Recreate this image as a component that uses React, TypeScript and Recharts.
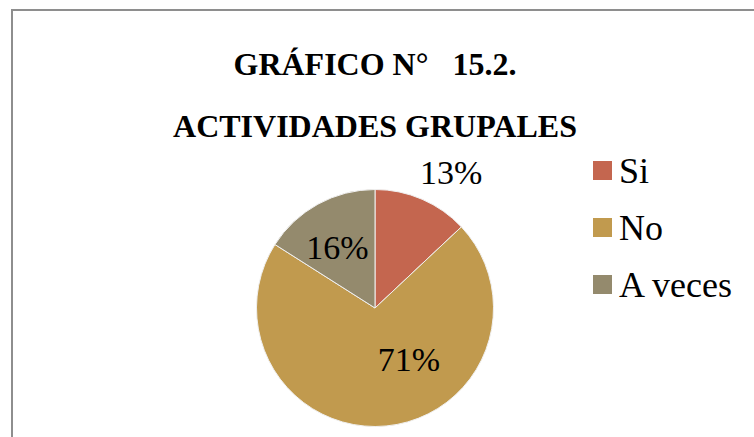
import React from "react";
import { PieChart, Pie, Cell, Legend } from "recharts";

const categories = ["Si", "No", "A veces"];
const values = [13, 71, 16];
const colors = ["#C4664F", "#C19A4E", "#948A6D"];
const titleLines = ["GRÁFICO N°   15.2.", "ACTIVIDADES GRUPALES"];

// label placement per slice: radius ratio and angle (deg) shift from slice middle
const labelPlacement = [
  { r: 1.31, shift: -6 },
  { r: 0.52, shift: 28 },
  { r: 0.6, shift: 3 },
];

const data = categories.map((name, i) => ({ name, value: values[i] }));

const FONT = '"Liberation Serif", Tinos, Times, cursive';

const renderLabel = (props: any) => {
  const { cx, cy, midAngle, outerRadius, index, value } = props;
  const p = labelPlacement[index];
  const a = ((midAngle + p.shift) * Math.PI) / 180;
  const r = outerRadius * p.r;
  const x = cx + r * Math.cos(a);
  const y = cy - r * Math.sin(a);
  return (
    <text
      x={x}
      y={y}
      textAnchor="middle"
      dominantBaseline="central"
      style={{ fontFamily: FONT, fontSize: 34 }}
      fill="#000"
    >
      {`${value}%`}
    </text>
  );
};

const LegendContent = (props: any) => {
  const payload = [...(props.payload || [])].sort(
    (a: any, b: any) => categories.indexOf(a.value) - categories.indexOf(b.value)
  );
  return (
    <div>
      {payload.map((entry: any, i: number) => (
        <div
          key={i}
          style={{ display: "flex", alignItems: "center", height: 57 }}
        >
          <div
            style={{ width: 19, height: 19, background: entry.color }}
          />
          <span
            style={{
              marginLeft: 7,
              fontFamily: FONT,
              fontSize: 36,
              lineHeight: 1,
              color: "#000",
              whiteSpace: "pre",
            }}
          >
            {entry.value}
          </span>
        </div>
      ))}
    </div>
  );
};

export default function App() {
  return (
    <div
      style={{
        position: "absolute",
        left: 0,
        top: 0,
        width: 754,
        height: 437,
        background: "#fff",
        overflow: "hidden",
        fontFamily: FONT,
      }}
    >
      <div
        style={{
          position: "absolute",
          left: 11,
          top: 9,
          width: 800,
          height: 500,
          borderTop: "2px solid #8e8e8e",
          borderLeft: "2px solid #8e8e8e",
          boxSizing: "border-box",
        }}
      />
      {titleLines.map((t, i) => (
        <div
          key={i}
          style={{
            position: "absolute",
            left: 0,
            width: 750,
            top: i === 0 ? 47.5 : 110,
            textAlign: "center",
            fontFamily: FONT,
            fontWeight: "bold",
            fontSize: 32,
            lineHeight: 1,
            whiteSpace: "pre",
            color: "#000",
          }}
        >
          {t}
        </div>
      ))}
      <div style={{ position: "absolute", left: 0, top: 0 }}>
        <PieChart width={754} height={437} margin={{ top: 0, right: 0, bottom: 0, left: 0 }}>
          <Pie
            data={data}
            dataKey="value"
            nameKey="name"
            cx={375}
            cy={308}
            outerRadius={118.5}
            startAngle={90}
            endAngle={-270}
            stroke="#f0f0f0"
            strokeWidth={1}
            label={renderLabel}
            labelLine={false}
            isAnimationActive={false}
          >
            {data.map((d, i) => (
              <Cell key={d.name} fill={colors[i]} />
            ))}
          </Pie>
          <Legend
            layout="vertical"
            content={<LegendContent />}
            wrapperStyle={{ position: "absolute", left: 593, top: 142, width: 160 }}
          />
        </PieChart>
      </div>
    </div>
  );
}
